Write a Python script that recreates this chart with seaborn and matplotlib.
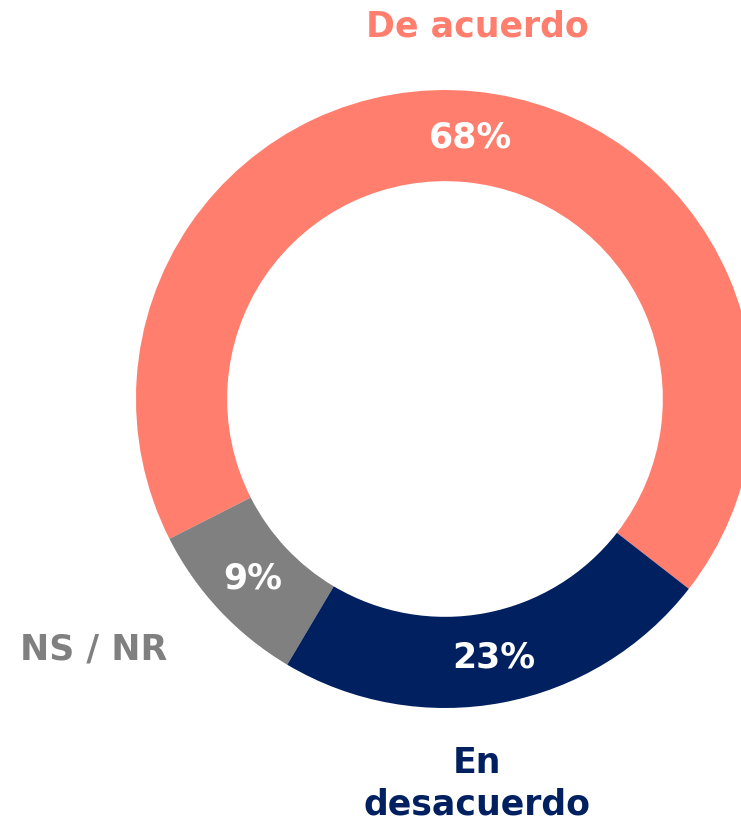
import matplotlib
matplotlib.use("Agg")
import matplotlib.pyplot as plt
import seaborn as sns
import numpy as np

# datos
categorias = ['De acuerdo', 'NS / NR', 'En desacuerdo']
valores = [68, 9, 23]
etiquetas_pct = ['68%', '9%', '23%']
colores = ['#FF7E6E', '#808080', '#002060']

sns.set_theme(style='white')
plt.rcParams['font.family'] = ['DejaVu Sans']

fig = plt.figure(figsize=(7.41, 8.23), dpi=100)
ax = fig.add_axes([0, 0, 1, 1])

wedges, _ = ax.pie(valores, colors=colores, startangle=-37.9, counterclock=True,
                   radius=1.0, wedgeprops=dict(width=0.295, edgecolor='none'))

# porcentajes dentro del anillo
for w, txt in zip(wedges, etiquetas_pct):
    ang = np.deg2rad((w.theta1 + w.theta2) / 2)
    ax.text(0.85 * np.cos(ang), 0.85 * np.sin(ang), txt, ha='center', va='center',
            color='white', fontsize=25, fontweight='bold')

# etiquetas de categoria
ax.text(0.104, 1.205, categorias[0], ha='center', va='center',
        color=colores[0], fontsize=25, fontweight='bold')
ax.text(-1.138, -0.812, categorias[1], ha='center', va='center',
        color=colores[1], fontsize=25, fontweight='bold')
ax.text(0.104, -1.245, 'En\ndesacuerdo', ha='center', va='center',
        color=colores[2], fontsize=25, fontweight='bold', linespacing=1.25)

ax.set_xlim(-445 / 309, (741 - 445) / 309)
ax.set_ylim(-(823 - 399) / 309, 399 / 309)
ax.set_aspect('auto')
ax.axis('off')

fig.savefig('out.png', dpi=100, facecolor='white')
